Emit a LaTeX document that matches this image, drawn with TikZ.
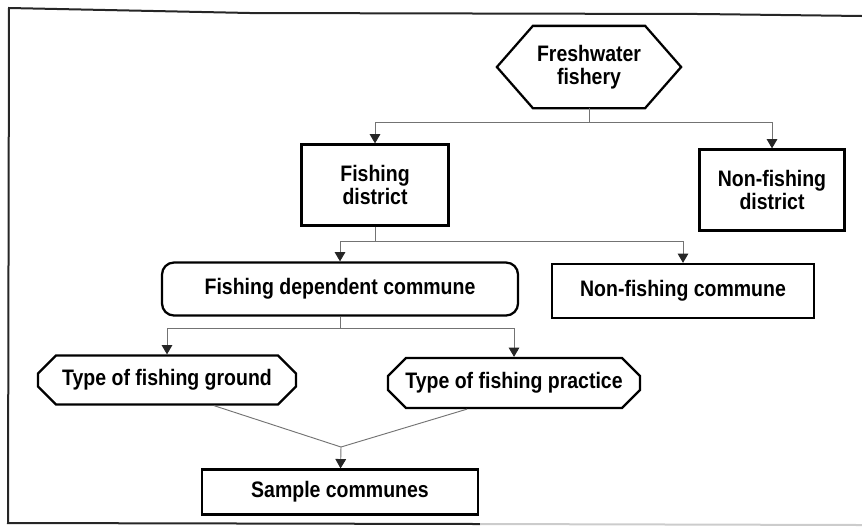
\documentclass[tikz,border=0pt]{standalone}
\usepackage{fontspec}
\setmainfont{Liberation Sans}[FakeStretch=0.87]
\usetikzlibrary{calc,arrows.meta,shapes.misc}
\newlength{\pxu}\setlength{\pxu}{0.75pt}
\tikzset{
	box/.style={draw, line width=1.7pt, align=center, inner sep=0pt, font=\fontsize{16.8pt}{17.5pt}\selectfont\bfseries},
	roundbox/.style={box, rounded corners=9pt},
	cutbox/.style={box, chamfered rectangle, chamfered rectangle xsep=9\pxu, chamfered rectangle ysep=9\pxu},
	link/.style={draw=black!55, line width=0.7pt},
	arrow/.style={link, -{Triangle[width=8pt,length=7pt,color=black!85]}}
}

\begin{document}
\begin{tikzpicture}[x=0.75pt,y=-0.75pt]
			%%%%% START %%%%%
			\useasboundingbox (0,0) rectangle (862,526);
			
			% frame
			\draw[line width=1.5pt, black!85] (862,16) -- (700,14) -- (250,13) -- (9,8) -- (8,523) -- (480,524);
			\draw[line width=1.5pt, black!20] (480,524) -- (862,525);
			
			% hexagon on top
			\node[box, draw=none, minimum width=182\pxu, minimum height=80\pxu] (fresh) at (589,67) {Freshwater\\fishery};
			\draw[line width=1.7pt] (fresh.west) -- ($(fresh.north west)+(36,0)$) -- ($(fresh.north east)+(-36,0)$) -- (fresh.east) -- ($(fresh.south east)+(-36,0)$) -- ($(fresh.south west)+(36,0)$) -- cycle;
			
			\node[box, minimum width=147\pxu, minimum height=81\pxu] (fdist) at (375,185) {Fishing\\district};
			\node[box, minimum width=145\pxu, minimum height=81\pxu] (nfdist) at (772,190) {Non-fishing\\district};
			
			\node[roundbox, minimum width=356\pxu, minimum height=53\pxu] (fdc) at (340,289) {Fishing dependent commune};
			\node[box, minimum width=262\pxu, minimum height=54\pxu] (nfc) at (683,291) {Non-fishing commune};
			
			\node[cutbox, minimum width=258\pxu, minimum height=49\pxu] (tfg) at (167,380) {Type of fishing ground};
			\node[cutbox, minimum width=252\pxu, minimum height=50\pxu] (tfp) at (514,383) {Type of fishing practice};
			
			\node[box, minimum width=276\pxu, minimum height=45\pxu] (sample) at (340,492) {Sample communes};
			
			% connectors
			\coordinate (j1) at (589,122);
			\coordinate (j2) at (375,241);
			\coordinate (j3) at (340,328);
			\coordinate (j4) at (341,447);
			
			\draw[link] (fresh.south) -- (j1);
			\draw[arrow] (j1) -| (fdist);
			\draw[arrow] (j1) -| (nfdist);
			
			\draw[link] (fdist.south) -- (j2);
			\draw[arrow] (j2) -| (fdc);
			\draw[arrow] (j2) -| (nfc);
			
			\draw[link] (fdc.south) -- (j3);
			\draw[arrow] (j3) -| (tfg);
			\draw[arrow] (j3) -| (tfp);
			
			\draw[link] ([xshift=47\pxu]tfg.south) -- (j4);
			\draw[link] ([xshift=-47\pxu]tfp.south) -- (j4);
			\draw[arrow] (j4) -- (sample);
			
			%%%%% END %%%%%
\end{tikzpicture}
\end{document}
